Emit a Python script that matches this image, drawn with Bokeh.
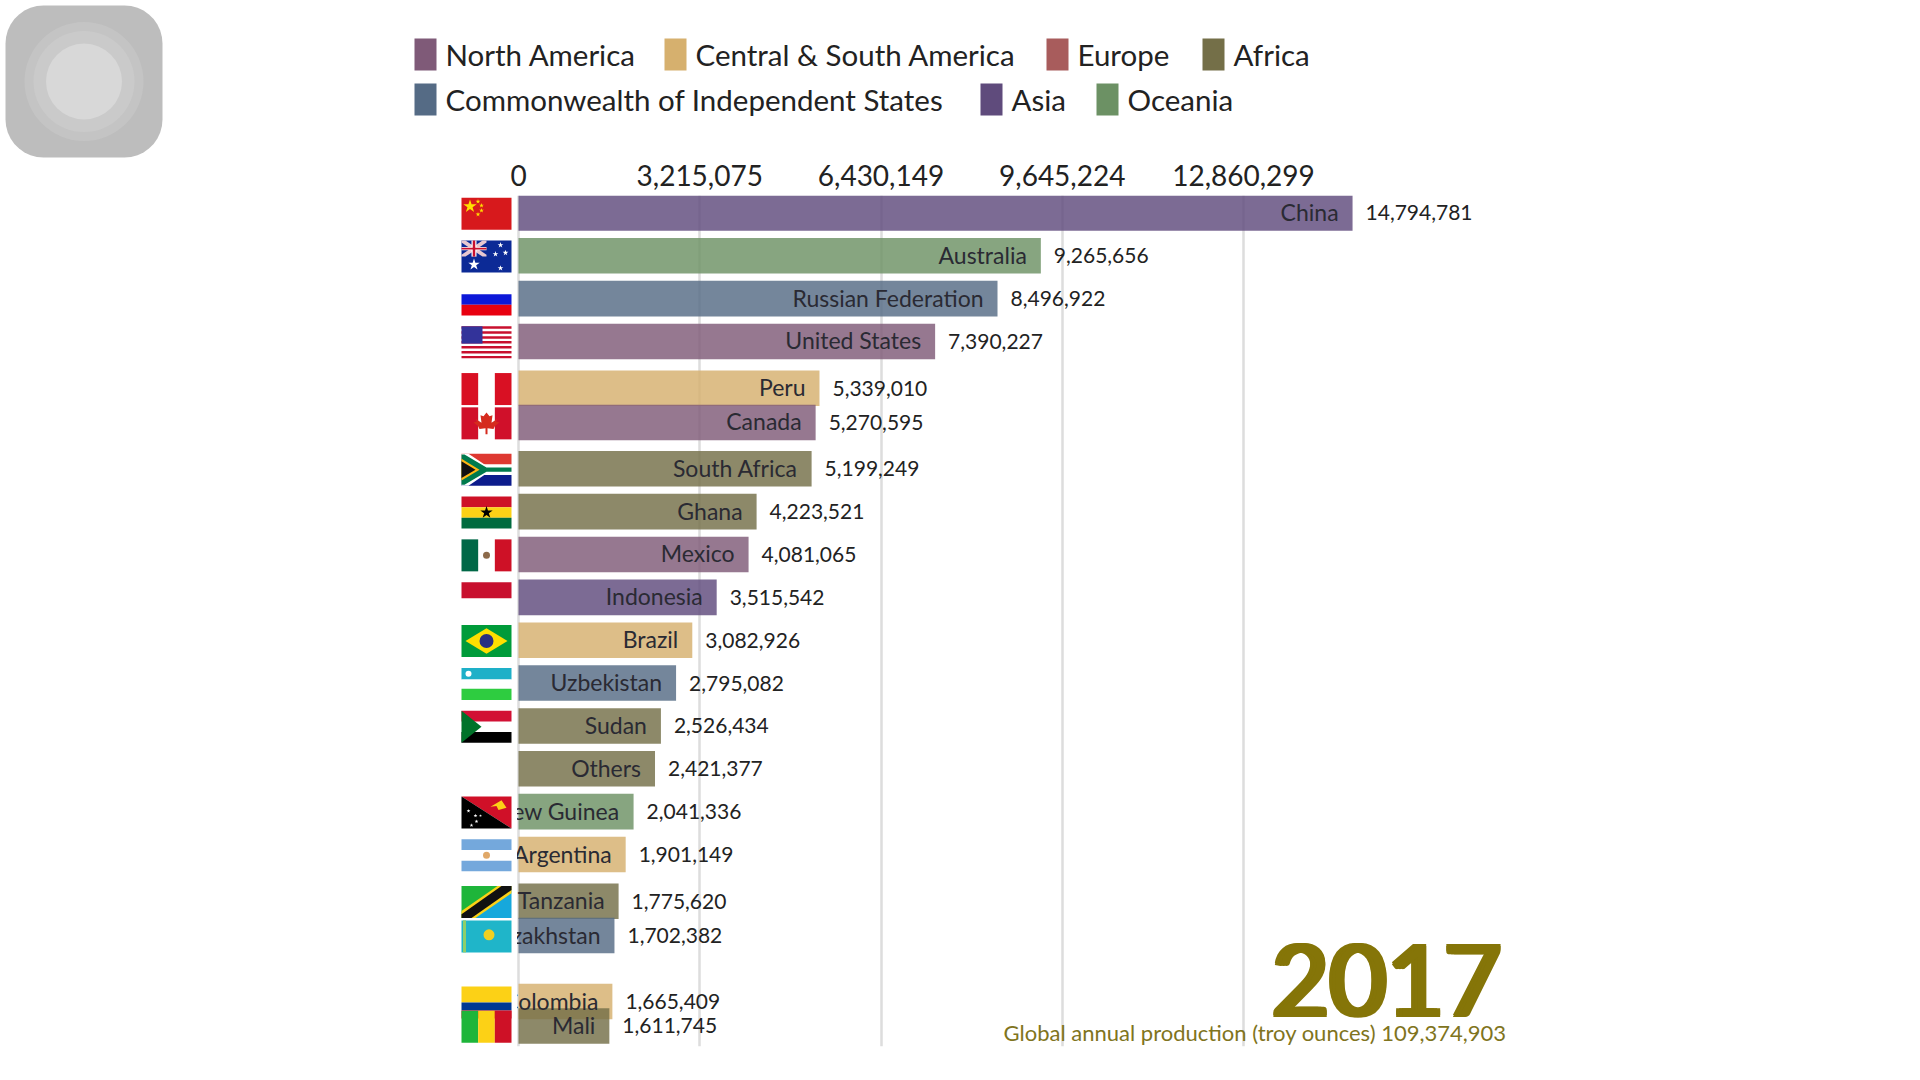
import math
from bokeh.plotting import figure
from bokeh.layouts import column
from bokeh.embed import file_html
from bokeh.resources import INLINE
from bokeh.models import Range1d, FixedTicker, NumeralTickFormatter, ColumnDataSource
from bokeh.core.properties import value

FONT = "Lato"

# ---------- data ----------
countries = ["China", "Australia", "Russian Federation", "United States", "Peru", "Canada",
             "South Africa", "Ghana", "Mexico", "Indonesia", "Brazil", "Uzbekistan", "Sudan",
             "Others", "Papua New Guinea", "Argentina", "Tanzania", "Kazakhstan", "Colombia", "Mali"]
production = [14794781, 9265656, 8496922, 7390227, 5339010, 5270595, 5199249, 4223521, 4081065,
              3515542, 3082926, 2795082, 2526434, 2421377, 2041336, 1901149, 1775620, 1702382,
              1665409, 1611745]
regions = ["Asia", "Oceania", "CIS", "North America", "Central & South America", "North America",
           "Africa", "Africa", "North America", "Asia", "Central & South America", "CIS", "Africa",
           "Africa", "Oceania", "Central & South America", "Africa", "CIS",
           "Central & South America", "Africa"]
# rank positions mid-animation
rank_pos = [0, 1, 2, 3, 4.09, 4.89, 5.97, 6.97, 7.97, 8.97, 9.97, 10.97, 11.97, 12.97, 13.97,
            14.97, 16.06, 16.86, 18.4, 18.97]
tick_values = [0, 3215075, 6430149, 9645224, 12860299]
region_colors = {"North America": "#7f5a78", "Central & South America": "#d6b06e", "Europe": "#a85c5c",
                 "Africa": "#746f48", "Commonwealth of Independent States": "#556b85", "CIS": "#556b85",
                 "Asia": "#5f4b7c", "Oceania": "#6c9164"}
legend_row1 = ["North America", "Central & South America", "Europe", "Africa"]
legend_row2 = ["Commonwealth of Independent States", "Asia", "Oceania"]
year_label = "2017"
total_label = "Global annual production (troy ounces) 109,374,903"

# ---------- layout (canvas px) ----------
W, H = 1904, 1064
HEAD = 195                 # height of the header figure; the bars' frame starts here
HEAD_FRAME = 158           # header frame height, the tick labels sit below it
FR_BOT = 1046
X0 = 518
K = 725 / 12860299         # px per unit
RK = 42.86
R0 = 212.4

def vx(px):
    return (px - X0) / K

def ry(py):
    return (py - R0) / RK

shared_x = Range1d(vx(0), vx(W))

# ---------- header: badge, legend, value axis ----------
head = figure(width=W, height=HEAD, output_backend="svg", toolbar_location=None,
              x_range=shared_x, y_range=Range1d(HEAD_FRAME, 0),
              min_border_top=0, min_border_bottom=HEAD - HEAD_FRAME,
              min_border_left=0, min_border_right=0, outline_line_color=None)
head.yaxis.visible = False
head.xgrid.visible = False
head.ygrid.visible = False
head.xaxis.ticker = FixedTicker(ticks=tick_values)
head.xaxis.formatter = NumeralTickFormatter(format="0,0")
head.xaxis.axis_line_color = None
head.xaxis.major_tick_line_color = None
head.xaxis.minor_tick_line_color = None
head.xaxis.major_label_standoff = 0
head.xaxis.major_label_text_font = FONT
head.xaxis.major_label_text_font_size = "28px"
head.xaxis.major_label_text_color = "#222222"

def rounded_square(left, right, top, bottom, rad):
    pts = []
    corners = [(right - rad, top + rad, -90), (right - rad, bottom - rad, 0),
               (left + rad, bottom - rad, 90), (left + rad, top + rad, 180)]
    for cx, cy, start in corners:
        for d in range(0, 91, 10):
            a = math.radians(start + d)
            pts.append((cx + rad * math.cos(a), cy + rad * math.sin(a)))
    return [vx(q[0]) for q in pts], [q[1] for q in pts]

bx, by = rounded_square(5, 162, 5, 157, 38)
head.patch(bx, by, fill_color="#bdbdbd", line_color=None)
head.scatter(x=[vx(83.5)] * 3, y=[81] * 3, size=[119, 101, 76],
             fill_color=["#c4c4c4", "#cacaca", "#d8d8d8"], line_color=None, marker="circle")

row_layouts = [(legend_row1, [414, 664, 1046, 1202], 54), (legend_row2, [414, 980, 1096], 99)]
for names, lefts, yc in row_layouts:
    head.quad(left=[vx(a) for a in lefts], right=[vx(a + 22) for a in lefts],
              top=[yc - 16] * len(lefts), bottom=[yc + 16] * len(lefts),
              fill_color=[region_colors[n] for n in names], line_color=None)
    head.text(x=[vx(a + 31) for a in lefts], y=[yc] * len(lefts), text=names, text_align="left",
              text_baseline="middle", text_font=value(FONT), text_font_size=value("29.5px"),
              text_color="#222222")

# ---------- bars ----------
p = figure(width=W, height=H - HEAD, output_backend="svg", toolbar_location=None,
           x_range=shared_x, y_range=Range1d(ry(FR_BOT), ry(HEAD)),
           min_border_top=0, min_border_bottom=H - FR_BOT,
           min_border_left=0, min_border_right=0, outline_line_color=None)
p.yaxis.visible = False
p.ygrid.visible = False
p.xaxis.visible = False
p.xaxis.ticker = FixedTicker(ticks=tick_values)
p.xgrid.grid_line_color = "#dddddd"
p.xgrid.grid_line_width = 2.5

src = ColumnDataSource(dict(
    name=countries, val=production, y=rank_pos,
    color=[region_colors[r] for r in regions],
    label=[f"{v:,}" for v in production]))

p.hbar(y="y", left=0, right="val", height=0.83, fill_color="color", fill_alpha=0.82,
       line_color=None, source=src)
p.text(x="val", y="y", text="name", source=src, x_offset=-14, y_offset=-1, text_align="right",
       text_baseline="middle", text_font=value(FONT), text_font_size=value("23px"), text_color="#2a2a33")
p.text(x="val", y="y", text="label", source=src, x_offset=13, text_align="left",
       text_baseline="middle", text_font=value(FONT), text_font_size=value("21px"), text_color="#222222")
# hides the part of a name that runs past the bar's start
p.quad(left=[vx(0)], right=[vx(516.5)], top=[ry(HEAD)], bottom=[ry(FR_BOT)], fill_color="white", line_color=None)

# ---------- flags (unit-square shapes) ----------
def R(u0, v0, u1, v1, c):
    return ([u0, u1, u1, u0], [v0, v0, v1, v1], c)

def vbands(*cs):
    n = len(cs)
    return [R(i / n, 0, (i + 1) / n, 1, c) for i, c in enumerate(cs) if c]

def hbands(*cs):
    n = len(cs)
    return [R(0, i / n, 1, (i + 1) / n, c) for i, c in enumerate(cs) if c]

RED = "#d0102a"
leaf = ([.5, .56, .62, .60, .72, .69, .76, .67, .64, .52, .52, .48, .48, .36, .33, .24, .31, .28, .40, .38, .44],
        [.16, .28, .25, .48, .36, .44, .47, .58, .68, .65, .84, .84, .65, .68, .58, .47, .44, .36, .48, .25, .28],
        "#d52b1e")
us = [R(0, i / 13, 1, (i + 1) / 13, "#c8102e") for i in range(0, 13, 2)] + [R(0, 0, .42, .54, "#33339a")]
flags = {
    "China": ([R(0, 0, 1, 1, "#d7191c")],
              [(.17, .27, 14, "#ffde00", "star"), (.33, .12, 5, "#ffde00", "star"), (.4, .24, 5, "#ffde00", "star"),
               (.4, .4, 5, "#ffde00", "star"), (.33, .52, 5, "#ffde00", "star")]),
    "Australia": ([R(0, 0, 1, 1, "#0c2a96"),
                   ([0, .08, .5, .5, .42, 0], [0, 0, .44, .5, .5, .06], "#e8c8d0"),
                   ([.5, .42, 0, 0, .08, .5], [0, 0, .44, .5, .5, .06], "#e8c8d0"),
                   R(.2, 0, .3, .5, "#ffffff"), R(0, .2, .5, .3, "#ffffff"),
                   R(.225, 0, .275, .5, "#c8102e"), R(0, .225, .5, .275, "#c8102e")],
                  [(.25, .75, 12, "#ffffff", "star"), (.78, .14, 6, "#ffffff", "star"), (.78, .86, 6, "#ffffff", "star"),
                   (.68, .42, 6, "#ffffff", "star"), (.88, .38, 6, "#ffffff", "star")]),
    "Russian Federation": (hbands(None, "#0c18d8", "#e8000f"), []),
    "United States": (us, []),
    "Peru": (vbands("#d91023", None, "#d91023"), []),
    "Canada": (vbands(RED, None, RED) + [leaf], []),
    "South Africa": ([R(0, 0, 1, .33, "#de3831"), R(0, .67, 1, 1, "#0c1c8c"),
                      ([0, .14, .5, 1, 1, .5, .14, 0], [0, 0, .38, .38, .62, .62, 1, 1], "#ffffff"),
                      ([0, .06, .5, 1, 1, .5, .06, 0], [.03, .03, .43, .43, .57, .57, .97, .97], "#007a4d"),
                      ([0, .36, 0], [.16, .5, .84], "#ffb612"), ([0, .28, 0], [.24, .5, .76], "#111111")], []),
    "Ghana": (hbands("#ce1126", "#fcd116", "#006b3f"), [(.5, .5, 13, "#000000", "star")]),
    "Mexico": (vbands("#006847", None, "#ce1126"), [(.5, .5, 7, "#8c6a4a", "circle")]),
    "Indonesia": ([R(0, 0, 1, .5, "#c8102e")], []),
    "Brazil": ([R(0, 0, 1, 1, "#009b3a"), ([.5, .92, .5, .08], [.1, .5, .9, .5], "#fedf00")],
               [(.5, .5, 14, "#2a2f80", "circle")]),
    "Uzbekistan": ([R(0, 0, 1, .36, "#1eb0c8"), R(0, .36, 1, .65, "#ffffff"), R(0, .65, 1, 1, "#2ecc40")],
                   [(.14, .18, 6, "#ffffff", "circle")]),
    "Sudan": (hbands("#d21034", None, "#000000") + [([0, .4, 0], [0, .5, 1], "#007229")], []),
    "Papua New Guinea": ([([0, 1, 1], [0, 0, 1], "#d01028"), ([0, 1, 0], [0, 1, 1], "#000000"),
                          ([.58, .8, .9, .74, .7], [.32, .12, .35, .42, .3], "#fcd116")],
                         [(.14, .45, 4, "#ffffff", "star"), (.28, .6, 4, "#ffffff", "star"), (.3, .78, 4, "#ffffff", "star"),
                          (.2, .9, 4, "#ffffff", "star"), (.38, .6, 3, "#ffffff", "star")]),
    "Argentina": (hbands("#74a8dc", None, "#74a8dc"), [(.5, .5, 7, "#e0a868", "circle")]),
    "Tanzania": ([([0, 1, 0], [0, 0, 1], "#1eb53a"), ([1, 1, 0], [0, 1, 1], "#16a8dc"),
                  ([.72, 1, 1, .28, 0, 0], [0, 0, .22, 1, 1, .78], "#fcd116"),
                  ([.8, 1, 1, .2, 0, 0], [0, 0, .12, 1, 1, .88], "#111111")], []),
    "Kazakhstan": ([R(0, 0, 1, 1, "#1fb5c9"), R(.03, 0, .09, 1, "#8fcf6a")], [(.55, .45, 11, "#f0d020", "circle")]),
    "Colombia": ([R(0, 0, 1, .5, "#fcd116"), R(0, .5, 1, .75, "#003893"), R(0, .75, 1, 1, "#ce1126")], []),
    "Mali": (vbands("#1eb53a", "#fcd116", "#ce1126"), []),
}

FL, FRT, FH = 461, 511, 32 / RK

def fx(u):
    return vx(FL + u * (FRT - FL))

xs, ys, cs = [], [], []
mk = dict(x=[], y=[], s=[], c=[], m=[])
for name, r in zip(countries, rank_pos):
    if name not in flags:
        continue
    polys, marks = flags[name]
    for pu, pv, c in polys:
        xs.append([fx(u) for u in pu])
        ys.append([r + 0.02 + (v - .5) * FH for v in pv])
        cs.append(c)
    for mu, mv, size, c, m in marks:
        mk["x"].append(fx(mu))
        mk["y"].append(r + 0.02 + (mv - .5) * FH)
        mk["s"].append(size)
        mk["c"].append(c)
        mk["m"].append(m)
p.patches(xs=xs, ys=ys, fill_color=cs, line_color=None)
p.scatter(x="x", y="y", size="s", fill_color="c", marker="m", line_color=None, source=ColumnDataSource(mk))

# ---------- total and year ----------
p.text(x=[vx(1506)], y=[ry(1032)], text=[total_label], text_align="right", text_baseline="middle",
       text_font=value(FONT), text_font_size=value("22px"), text_color="#7f7420")
# the year's weight is built up from slightly offset copies of the regular face
for dx, dy in [(-3, -1), (0, -1), (3, -1), (-3, 1), (0, 1), (3, 1)]:
    p.text(x=[vx(1501)], y=[ry(979)], text=[year_label], x_offset=dx, y_offset=dy, text_align="right",
           text_baseline="middle", text_font=value(FONT), text_font_size=value("99px"), text_color="#857508")

open("out.html", "w").write(file_html(column(head, p, spacing=0), INLINE))
